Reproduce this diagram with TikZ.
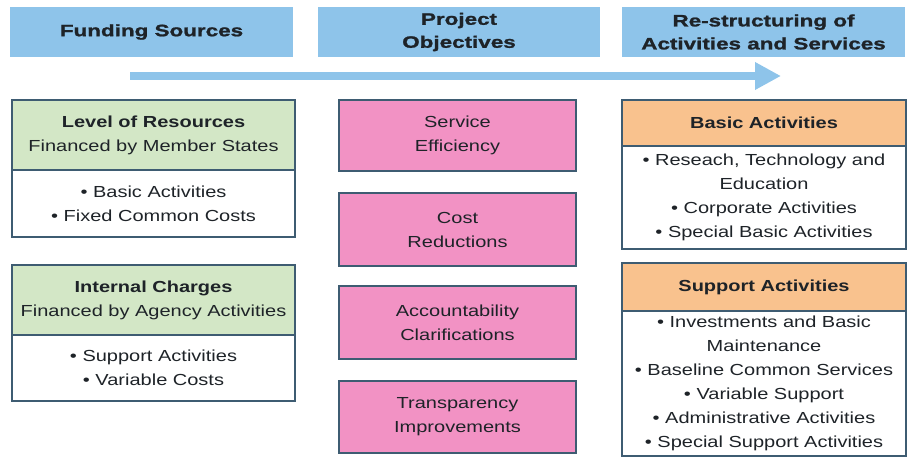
\documentclass[tikz,border=0pt]{standalone}
\usepackage{fontspec}
\setmainfont{Liberation Sans}[FakeStretch=1.25]
\newfontfamily\hdrfont{Liberation Sans Bold}[FakeStretch=1.36, FakeBold=1.3]
\usetikzlibrary{arrows.meta}
\definecolor{hdrblue}{HTML}{8EC4EA}
\definecolor{bordc}{HTML}{3E5C72}
\definecolor{greenf}{HTML}{D3E7C6}
\definecolor{pinkf}{HTML}{F292C4}
\definecolor{orangef}{HTML}{F9C28E}
\definecolor{txtc}{HTML}{1E2328}
\tikzset{
  hdr/.style={fill=hdrblue, draw=none, inner sep=0pt, align=center, text=txtc,
    font=\hdrfont\fontsize{16.5}{23}\selectfont},
  part/.style={draw=bordc, line width=1.6pt, inner sep=0pt, align=center, text=txtc,
    font=\fontsize{16}{24}\selectfont},
  greenpart/.style={part, fill=greenf},
  whitepart/.style={part, fill=white},
  pinkpart/.style={part, fill=pinkf},
  orangepart/.style={part, fill=orangef},
  flowarrow/.style={draw=hdrblue, line width=8pt, -{Triangle[length=26pt,width=26pt]}}
}
\begin{document}
\begin{tikzpicture}[x=1pt,y=-1pt]
\useasboundingbox (0,0) rectangle (911,457);
% headers
\node[hdr, minimum width=283pt, minimum height=50pt] (h1) at (151.5,32) {Funding Sources};
\node[hdr, minimum width=282pt, minimum height=50pt] (h2) at (459,32) {Project\\Objectives};
\node[hdr, minimum width=283pt, minimum height=50pt] (h3) at (763.5,32) {Re-structuring of\\Activities and Services};
% arrow
\coordinate (as) at (130,76);
\coordinate (ae) at (781,76);
\draw[flowarrow] (as) -- (ae);
% left column
\node[greenpart, minimum width=283pt, minimum height=70pt] (l1t) at (153.5,135) {\textbf{Level of Resources}\\Financed by Member States};
\node[whitepart, minimum width=283pt, minimum height=67pt] (l1b) at (153.5,203.5) {• Basic Activities\\• Fixed Common Costs};
\node[greenpart, minimum width=283pt, minimum height=70pt] (l2t) at (153.5,300) {\textbf{Internal Charges}\\Financed by Agency Activities};
\node[whitepart, minimum width=283pt, minimum height=66pt] (l2b) at (153.5,368) {• Support Activities\\• Variable Costs};
% middle column
\node[pinkpart, minimum width=237pt, minimum height=71pt] (m1) at (457.5,135.5) {Service\\Efficiency};
\node[pinkpart, minimum width=237pt, minimum height=73pt] (m2) at (457.5,229.5) {Cost\\Reductions};
\node[pinkpart, minimum width=237pt, minimum height=73pt] (m3) at (457.5,322.5) {Accountability\\Clarifications};
\node[pinkpart, minimum width=237pt, minimum height=72pt] (m4) at (457.5,417) {Transparency\\Improvements};
% right column
\node[orangepart, minimum width=284pt, minimum height=46pt] (r1t) at (764,123) {\textbf{Basic Activities}};
\node[whitepart, minimum width=284pt, minimum height=103pt] (r1b) at (764,197.5) {• Reseach, Technology and\\Education\\• Corporate Activities\\• Special Basic Activities};
\node[orangepart, minimum width=284pt, minimum height=48pt] (r2t) at (764,287) {\textbf{Support Activities}};
\node[whitepart, minimum width=284pt, minimum height=145pt] (r2b) at (764,383.5) {• Investments and Basic\\Maintenance\\• Baseline Common Services\\• Variable Support\\• Administrative Activities\\• Special Support Activities};
\end{tikzpicture}
\end{document}
